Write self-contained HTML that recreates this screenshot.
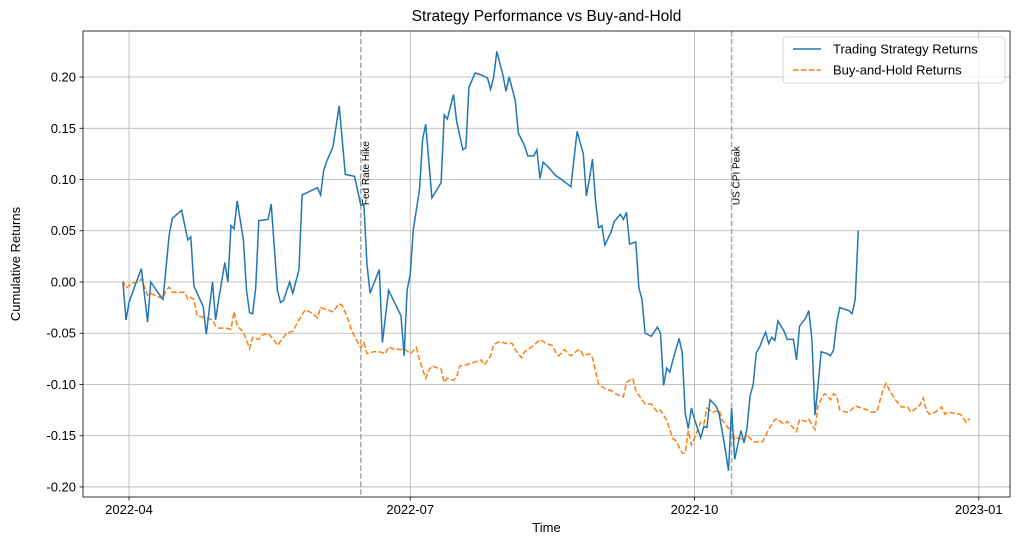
<!DOCTYPE html>
<html><head><meta charset="utf-8"><style>
html,body{margin:0;padding:0;background:#fff;}
svg{display:block;font-family:"Liberation Sans","DejaVu Sans",sans-serif;}
</style></head><body>
<svg id="chart" width="1021" height="545" viewBox="0 0 1021 545" xmlns="http://www.w3.org/2000/svg"></svg>
<script>
// Days since 2022-04-01
const stratDays=[-2,-1,0,2,4,6,7,10,11,13,14,17,19,20,21,24,25,27,28,29,31,32,33,34,35,37,38,39,40,41,42,45,46,48,49,50,52,53,55,56,61,62,63,64,66,68,70,73,75,76,77,78,79,81,82,84,88,89,90,91,92,94,95,96,98,101,102,103,105,106,108,109,110,112,114,116,117,118,119,121,122,123,125,126,128,129,131,132,133,134,136,138,140,143,145,147,148,149,150,151,152,153,154,156,157,159,160,161,162,164,165,166,167,169,171,172,173,174,175,176,178,179,180,181,182,183,185,186,187,188,190,191,193,194,195,196,197,198,199,200,201,202,203,204,205,206,207,208,209,210,212,213,215,216,217,219,220,221,222,223,224,226,227,228,229,230,233,234,235,236];
const stratVals=[0.000,-0.037,-0.020,-0.003,0.013,-0.039,0.000,-0.013,-0.017,0.046,0.062,0.070,0.041,0.044,-0.004,-0.024,-0.051,0.000,-0.037,-0.017,0.019,0.000,0.055,0.052,0.079,0.041,-0.008,-0.030,-0.031,-0.006,0.060,0.061,0.076,-0.008,-0.020,-0.018,0.000,-0.011,0.012,0.085,0.092,0.085,0.109,0.118,0.132,0.172,0.105,0.103,0.075,0.075,0.017,-0.011,-0.003,0.012,-0.059,-0.008,-0.033,-0.072,-0.008,0.007,0.051,0.090,0.139,0.154,0.082,0.097,0.163,0.159,0.183,0.157,0.129,0.131,0.190,0.204,0.202,0.199,0.188,0.200,0.225,0.202,0.186,0.200,0.177,0.145,0.133,0.123,0.123,0.129,0.101,0.117,0.111,0.104,0.100,0.093,0.147,0.125,0.084,0.101,0.120,0.078,0.053,0.055,0.036,0.049,0.059,0.066,0.061,0.068,0.037,0.039,-0.006,-0.017,-0.050,-0.053,-0.044,-0.050,-0.101,-0.084,-0.088,-0.076,-0.055,-0.069,-0.128,-0.143,-0.123,-0.134,-0.152,-0.141,-0.142,-0.115,-0.121,-0.129,-0.164,-0.184,-0.123,-0.173,-0.159,-0.145,-0.157,-0.143,-0.111,-0.100,-0.069,-0.064,-0.056,-0.049,-0.060,-0.054,-0.057,-0.038,-0.048,-0.056,-0.056,-0.076,-0.043,-0.035,-0.028,-0.056,-0.130,-0.100,-0.068,-0.070,-0.072,-0.066,-0.040,-0.025,-0.028,-0.031,-0.017,0.050];
const bhDays=[-2,-1,1,3,4,6,7,9,11,12,13,14,17,18,19,20,21,22,25,27,28,29,31,33,34,35,37,39,40,42,43,45,47,48,50,51,53,55,57,59,61,62,64,66,68,69,71,72,74,75,76,77,79,81,83,84,85,88,89,91,93,94,96,97,98,101,102,103,105,106,107,109,112,114,115,117,118,120,122,124,125,127,128,130,131,133,135,137,138,139,141,142,143,145,146,147,149,150,152,154,156,158,160,161,163,164,166,167,169,171,172,174,176,177,179,180,181,182,183,185,186,187,189,191,192,194,195,196,197,199,200,202,204,205,207,209,210,212,213,214,216,217,219,220,222,223,225,226,227,228,229,230,232,233,235,237,239,240,242,244,245,246,248,250,252,253,254,256,257,258,259,261,263,264,265,267,269,271,272];
const bhVals=[0.001,-0.006,-0.001,0.000,0.003,-0.013,-0.011,-0.014,-0.016,-0.008,-0.005,-0.010,-0.010,-0.010,-0.017,-0.015,-0.017,-0.033,-0.035,-0.037,-0.043,-0.045,-0.045,-0.046,-0.029,-0.043,-0.049,-0.065,-0.054,-0.056,-0.052,-0.050,-0.057,-0.062,-0.054,-0.050,-0.048,-0.037,-0.027,-0.030,-0.035,-0.025,-0.027,-0.029,-0.021,-0.023,-0.037,-0.047,-0.059,-0.064,-0.059,-0.070,-0.068,-0.068,-0.070,-0.063,-0.065,-0.066,-0.065,-0.070,-0.064,-0.076,-0.094,-0.086,-0.082,-0.085,-0.098,-0.094,-0.096,-0.093,-0.082,-0.081,-0.078,-0.076,-0.081,-0.072,-0.061,-0.058,-0.060,-0.060,-0.066,-0.074,-0.068,-0.064,-0.062,-0.056,-0.060,-0.062,-0.068,-0.072,-0.066,-0.070,-0.072,-0.067,-0.066,-0.072,-0.070,-0.074,-0.100,-0.104,-0.106,-0.110,-0.112,-0.098,-0.094,-0.106,-0.115,-0.119,-0.119,-0.127,-0.125,-0.135,-0.153,-0.155,-0.167,-0.167,-0.145,-0.159,-0.152,-0.137,-0.139,-0.123,-0.127,-0.125,-0.135,-0.143,-0.141,-0.154,-0.152,-0.154,-0.149,-0.156,-0.156,-0.156,-0.144,-0.134,-0.134,-0.139,-0.136,-0.139,-0.146,-0.134,-0.136,-0.134,-0.144,-0.120,-0.109,-0.111,-0.115,-0.109,-0.111,-0.125,-0.127,-0.127,-0.121,-0.123,-0.125,-0.127,-0.127,-0.105,-0.099,-0.105,-0.115,-0.122,-0.122,-0.127,-0.125,-0.120,-0.113,-0.125,-0.129,-0.127,-0.122,-0.129,-0.127,-0.128,-0.129,-0.137,-0.133];
const yTicks=[0.20,0.15,0.10,0.05,0.00,-0.05,-0.10,-0.15,-0.20];
const xTickDays=[0,91,183,275];
const xTickLabels=["2022-04","2022-07","2022-10","2023-01"];
const eventDays=[75,195];
const eventLabels=["Fed Rate Hike","US CPI Peak"];

const NS="http://www.w3.org/2000/svg";
const svg=document.getElementById('chart');
const L=83,R=1010,T=31,B=497;
const dMin=-14.9,dMax=285.1,vMin=-0.2098,vMax=0.2449;
const xs=d=>L+(d-dMin)/(dMax-dMin)*(R-L);
const ys=v=>B-(v-vMin)/(vMax-vMin)*(B-T);
function mk(tag,attrs,parent){const e=document.createElementNS(NS,tag);for(const k in attrs)e.setAttribute(k,attrs[k]);(parent||svg).appendChild(e);return e;}

const grid=mk('g',{});


yTicks.forEach(v=>{
  const y=ys(v);
  const gl=mk('line',{x1:L,x2:R,y1:y,y2:y,stroke:'#b0b0b0','stroke-width':0.8},grid);
  
  
  mk('line',{x1:L-3.5,x2:L,y1:y,y2:y,stroke:'#000','stroke-width':0.8});
  const t=mk('text',{x:L-7,y:y+4.5,'text-anchor':'end','font-size':13,fill:'#000'});
  t.textContent=v.toFixed(2);
  
  
});
xTickDays.forEach((d,i)=>{
  const x=xs(d);
  const gl=mk('line',{x1:x,x2:x,y1:T,y2:B,stroke:'#b0b0b0','stroke-width':0.8},grid);
  
  
  mk('line',{x1:x,x2:x,y1:B,y2:B+3.5,stroke:'#000','stroke-width':0.8});
  const t=mk('text',{x:x,y:B+17,'text-anchor':'middle','font-size':13,fill:'#000'});
  t.textContent=xTickLabels[i];
  
  
});

eventDays.forEach((d,i)=>{
  const x=xs(d);
  const l=mk('line',{x1:x,x2:x,y1:T,y2:B,stroke:'#999','stroke-width':1.5,'stroke-dasharray':'5.5,2.4',opacity:0.85});
  
  
  const t=mk('text',{x:0,y:0,'font-size':10,fill:'#000',transform:`translate(${x+8},${ys(0.075)}) rotate(-90)`});
  t.textContent=eventLabels[i];
  
  
});

function path(days,vals){return days.map((d,i)=>(i?'L':'M')+xs(d).toFixed(1)+','+ys(vals[i]).toFixed(1)).join('');}
const bh=mk('path',{d:path(bhDays,bhVals),fill:'none',stroke:'#ff7f0e','stroke-width':1.5,'stroke-dasharray':'5.5,2.4'});


const st=mk('path',{d:path(stratDays,stratVals),fill:'none',stroke:'#1f77b4','stroke-width':1.5});



const frame=mk('rect',{x:L,y:T,width:R-L,height:B-T,fill:'none',stroke:'#000','stroke-width':0.8});



const title=mk('text',{x:(L+R)/2,y:21,'text-anchor':'middle','font-size':15.5,fill:'#000'});
title.textContent='Strategy Performance vs Buy-and-Hold';


const xl=mk('text',{x:(L+R)/2,y:532,'text-anchor':'middle','font-size':13,fill:'#000'});
xl.textContent='Time';


const yl=mk('text',{x:0,y:0,'text-anchor':'middle','font-size':13,fill:'#000',transform:`translate(20,${(T+B)/2}) rotate(-90)`});
yl.textContent='Cumulative Returns';



const lg=mk('g',{});


mk('rect',{x:783,y:37,width:222,height:46,rx:3,fill:'#fff','fill-opacity':0.8,stroke:'#ccc','stroke-width':0.8},lg);
const e1=mk('g',{},lg);


mk('line',{x1:793,x2:821,y1:49,y2:49,stroke:'#1f77b4','stroke-width':1.5},e1);
const t1=mk('text',{x:833,y:53.5,'font-size':13,fill:'#000'},e1);t1.textContent='Trading Strategy Returns';
const e2=mk('g',{},lg);


mk('line',{x1:793,x2:821,y1:70,y2:70,stroke:'#ff7f0e','stroke-width':1.5,'stroke-dasharray':'5.5,2.4'},e2);
const t2=mk('text',{x:833,y:74.5,'font-size':13,fill:'#000'},e2);t2.textContent='Buy-and-Hold Returns';
</script>
</body></html>
